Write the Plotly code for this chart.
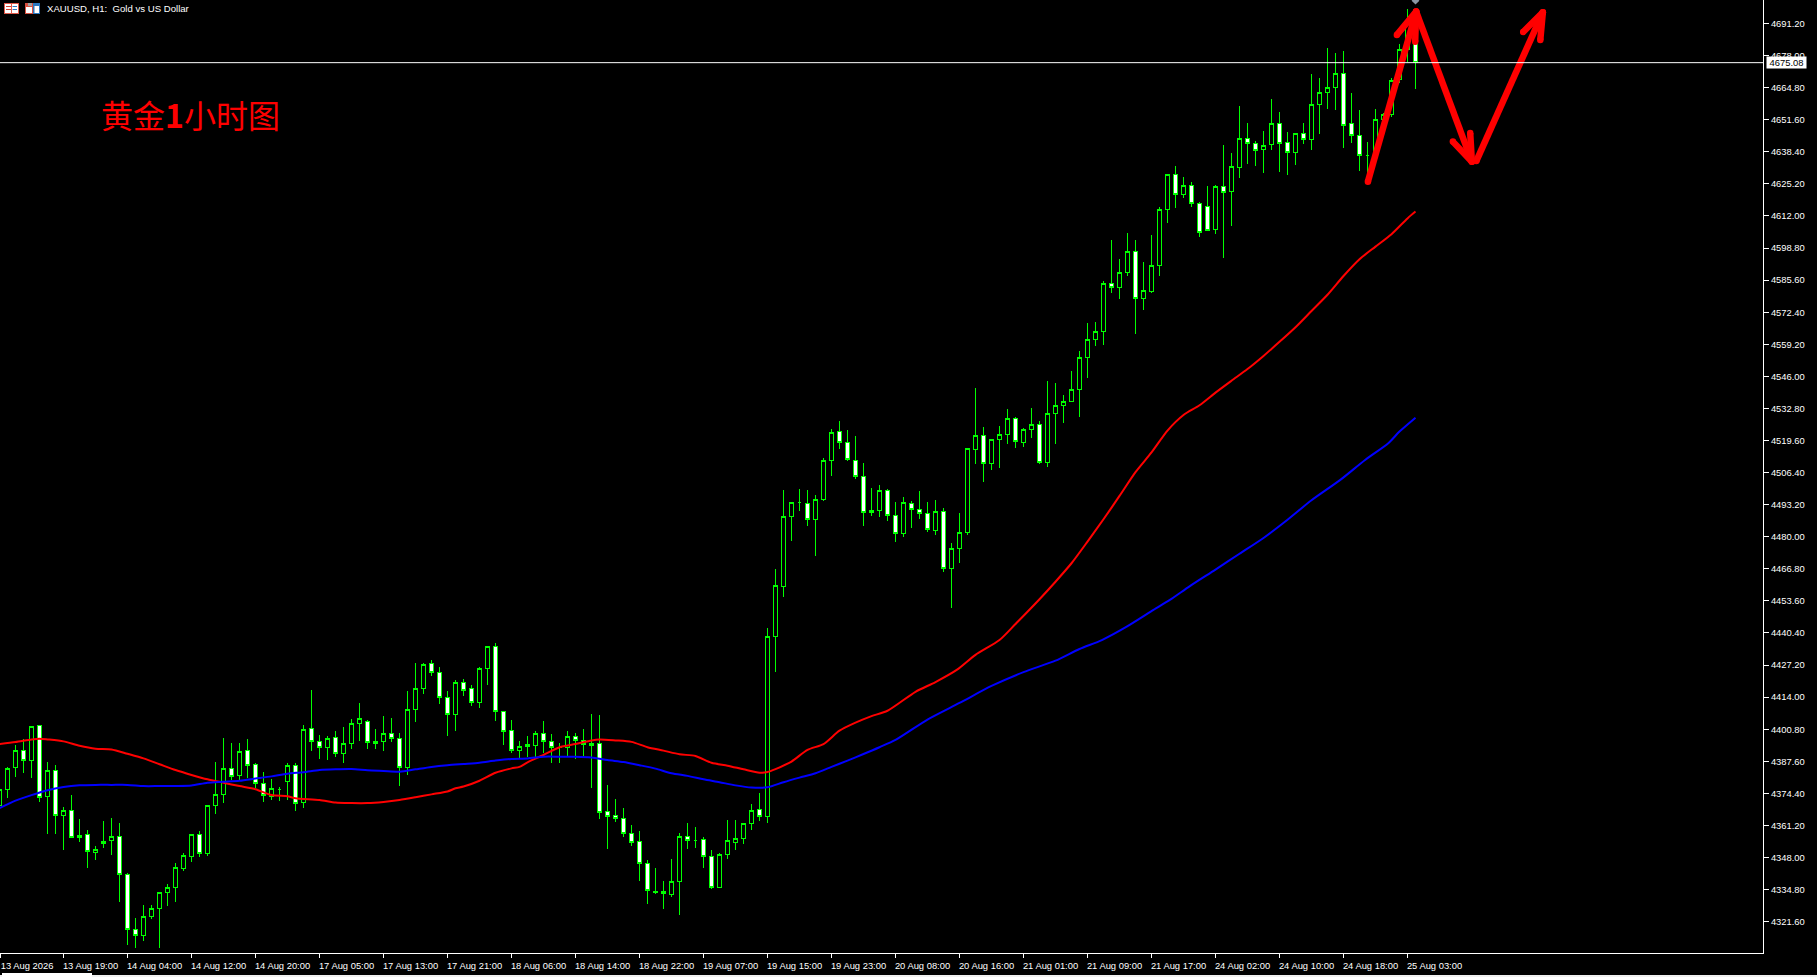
import plotly.graph_objects as go

opens = [4369.6,4376.1,4385.0,4392.1,4388.0,4402.4,4373.2,4383.9,4365.4,4367.4,
 4357.1,4357.6,4350.2,4353.9,4355.1,4356.7,4341.1,4318.5,4316.0,4323.8,
 4327.1,4333.7,4335.8,4343.4,4348.5,4357.6,4349.7,4369.5,4374.0,4384.7,
 4381.8,4392.1,4386.4,4378.5,4373.2,4376.1,4379.4,4386.0,4370.7,4401.2,
 4395.8,4393.4,4397.5,4390.9,4395.0,4403.2,4404.1,4395.8,4395.8,4399.1,
 4397.1,4385.1,4409.0,4417.6,4427.9,4424.2,4413.9,4406.8,4420.1,4417.6,
 4411.7,4425.9,4434.9,4408.2,4400.4,4392.1,4394.6,4394.2,4399.1,4395.8,
 4393.2,4393.4,4397.9,4396.2,4395.0,4395.0,4367.0,4365.4,4364.1,4358.0,
 4354.7,4345.6,4334.0,4334.1,4332.9,4338.2,4356.7,4355.1,4355.5,4348.5,
 4335.8,4349.3,4354.3,4355.9,4362.1,4367.8,4365.0,4439.0,4459.6,4488.4,
 4494.2,4493.8,4487.2,4495.4,4511.4,4523.4,4518.9,4511.4,4504.9,4490.0,
 4490.9,4499.1,4488.8,4481.4,4493.8,4491.3,4489.6,4482.6,4490.5,4467.0,
 4475.2,4481.8,4516.0,4521.7,4510.2,4520.1,4522.1,4528.7,4518.9,4524.2,
 4526.3,4510.6,4530.8,4534.1,4535.7,4540.7,4553.8,4561.2,4564.5,4584.3,
 4582.6,4588.8,4597.5,4578.1,4580.9,4591.7,4614.7,4629.1,4620.9,4624.6,
 4617.2,4616.0,4606.5,4624.2,4622.1,4632.0,4644.0,4641.9,4639.4,4641.5,
 4650.1,4642.3,4638.2,4646.0,4643.5,4657.9,4662.9,4664.9,4670.7,4650.1,
 4645.2,4637.0,4637.0,4651.8,4653.6,4668.2,4680.6,4692.6]
highs = [4376.1,4385.1,4394.3,4396.6,4402.0,4402.4,4387.2,4386.1,4368.8,4373.7,
 4363.7,4359.3,4352.8,4363.0,4364.1,4362.1,4341.8,4323.1,4328.5,4328.5,
 4334.0,4337.0,4345.8,4349.7,4357.6,4358.8,4369.5,4387.3,4397.2,4395.1,
 4395.1,4396.8,4386.8,4383.1,4380.2,4376.9,4386.8,4386.8,4402.5,4417.0,
 4398.3,4398.0,4400.1,4401.7,4405.0,4411.6,4404.6,4400.9,4406.3,4405.4,
 4399.3,4416.5,4428.1,4428.2,4429.3,4426.4,4416.5,4420.9,4421.3,4418.9,
 4426.3,4434.9,4436.2,4408.2,4404.6,4395.8,4397.9,4399.9,4404.2,4398.7,
 4395.0,4399.9,4399.1,4400.9,4407.1,4406.7,4377.9,4372.1,4368.3,4361.3,
 4358.8,4347.0,4343.6,4338.2,4347.4,4358.0,4362.2,4360.6,4356.3,4351.1,
 4349.7,4363.5,4363.5,4362.1,4370.0,4374.4,4442.3,4466.7,4499.2,4494.2,
 4499.7,4499.2,4497.2,4512.3,4524.2,4527.5,4523.8,4521.5,4510.2,4500.1,
 4501.3,4499.7,4494.2,4496.2,4494.6,4498.7,4494.2,4495.0,4491.7,4477.3,
 4489.6,4516.4,4541.2,4525.1,4520.1,4525.4,4532.6,4529.1,4524.6,4532.8,
 4527.5,4544.1,4543.3,4538.3,4548.2,4556.4,4568.0,4568.4,4585.3,4602.1,
 4594.2,4605.0,4602.1,4593.1,4604.0,4615.6,4629.1,4632.6,4628.0,4626.0,
 4617.8,4624.3,4624.6,4641.2,4637.9,4657.3,4650.3,4642.9,4647.0,4660.1,
 4654.8,4646.6,4646.0,4650.3,4670.4,4668.8,4681.1,4679.1,4679.9,4662.6,
 4655.6,4642.4,4655.9,4654.2,4668.6,4682.8,4697.2,4696.0]
lows = [4368.5,4372.4,4381.3,4382.9,4380.9,4371.0,4357.8,4357.7,4351.1,4355.9,
 4354.4,4343.8,4347.0,4352.1,4349.1,4329.7,4312.0,4310.9,4313.8,4322.9,
 4310.9,4328.1,4329.7,4342.3,4346.2,4348.4,4348.8,4365.9,4370.5,4379.9,
 4379.9,4380.6,4376.5,4371.0,4371.7,4371.4,4371.6,4367.3,4368.3,4392.0,
 4388.7,4388.1,4389.2,4387.0,4392.8,4396.0,4392.8,4392.7,4392.0,4395.4,
 4377.6,4382.0,4403.8,4415.3,4422.7,4411.2,4398.0,4400.2,4414.6,4410.5,
 4409.7,4419.1,4404.3,4394.3,4390.9,4388.8,4389.2,4388.8,4390.9,4387.0,
 4387.0,4389.8,4388.6,4389.9,4376.8,4363.9,4351.5,4362.8,4356.6,4352.9,
 4338.4,4328.9,4332.9,4326.8,4331.6,4324.4,4351.5,4351.9,4343.7,4335.1,
 4335.3,4347.4,4351.1,4353.6,4359.3,4363.0,4362.2,4424.5,4455.4,4478.4,
 4490.7,4484.6,4472.2,4494.6,4505.1,4516.1,4511.3,4503.9,4484.6,4488.7,
 4488.3,4486.6,4478.0,4480.0,4483.7,4487.4,4482.1,4480.9,4465.6,4450.8,
 4469.3,4480.9,4510.1,4502.7,4507.6,4508.4,4518.3,4516.7,4517.1,4520.8,
 4510.1,4508.7,4518.2,4526.8,4535.7,4529.4,4545.3,4558.6,4558.9,4580.3,
 4577.8,4587.3,4563.4,4573.3,4580.2,4587.3,4609.1,4615.3,4619.4,4615.7,
 4603.5,4605.8,4604.6,4594.9,4607.9,4627.8,4633.5,4632.6,4629.7,4639.2,
 4630.2,4629.0,4633.1,4641.8,4639.3,4645.9,4656.2,4655.6,4640.1,4642.2,
 4630.6,4625.6,4635.0,4646.0,4652.9,4666.9,4675.2,4664.3]
closes = [4376.1,4384.7,4392.1,4388.0,4402.0,4372.8,4383.9,4365.4,4367.4,4356.3,
 4356.3,4350.6,4351.4,4354.7,4356.7,4341.1,4318.5,4316.0,4323.8,4327.1,
 4333.7,4335.8,4344.0,4348.9,4357.6,4349.7,4369.5,4374.0,4384.7,4381.4,
 4391.7,4386.0,4378.5,4373.6,4376.5,4376.1,4386.0,4370.3,4400.8,4395.8,
 4393.4,4397.1,4390.9,4395.0,4403.2,4405.3,4395.4,4395.0,4399.1,4396.9,
 4385.1,4409.0,4417.6,4427.6,4424.1,4413.8,4406.8,4420.1,4416.8,4411.9,
 4425.9,4434.9,4408.2,4399.9,4392.1,4393.8,4393.8,4399.1,4395.8,4393.4,
 4393.4,4397.9,4396.2,4394.6,4394.2,4366.6,4365.0,4364.1,4358.0,4354.3,
 4345.6,4334.5,4333.6,4333.3,4338.2,4356.7,4355.1,4355.1,4348.5,4335.8,
 4349.3,4355.1,4355.9,4362.1,4367.4,4365.0,4439.0,4460.0,4488.4,4494.2,
 4494.2,4487.2,4495.4,4511.4,4523.0,4518.9,4511.9,4504.9,4490.0,4490.9,
 4499.1,4488.8,4481.4,4494.2,4491.3,4489.6,4483.1,4490.5,4467.0,4475.2,
 4481.8,4516.4,4521.7,4510.2,4520.1,4522.1,4528.7,4519.3,4524.2,4526.3,
 4510.6,4530.8,4534.1,4535.7,4540.7,4553.8,4561.2,4564.5,4584.3,4582.6,
 4588.8,4597.5,4578.1,4581.4,4591.7,4614.7,4629.1,4620.9,4624.6,4617.2,
 4605.3,4606.1,4624.2,4621.7,4632.4,4644.0,4641.8,4638.9,4641.1,4650.1,
 4641.9,4638.2,4646.0,4643.5,4657.9,4662.9,4664.9,4670.7,4649.3,4645.2,
 4637.0,4637.0,4651.8,4653.6,4667.8,4680.3,4692.6,4675.08]

red_idx = [0,2,4,5,6,8,10,12,14,16,18,20,22,24,26,28,30,32,34,36,37,40,42,44,46,48,50,52,54,56,
 57,58,60,62,64,65,66,68,70,72,74,75,77,79,81,83,85,87,89,91,93,95,96,97,99,101,103,105,107,109,111,
 114.5,117,119.7,122,125,127,130,132,134,136,138,140,142,144,146,148,150,152,154,156,158,160,162,164,166,168,170,172,174,176,177]
red_ma = [4394.7,4395.5,4396.6,4396.9,4396.6,4395.8,4394.0,4392.8,4392.5,4390.7,4388.8,4386.4,4384.0,4382.0,4380.2,4378.8,4377.4,4376.1,4373.7,4373.2,4372.4,4371.7,4370.6,4370.4,4370.4,4370.9,4371.7,4372.8,4374.0,4375.2,
 4376.5,4377.2,4379.6,4382.9,4384.7,4385.3,4387.2,4390.2,4393.4,4394.7,4396.2,4396.6,4396.2,4395.6,4393.4,4392.0,4390.5,4389.8,4387.0,4385.8,4384.3,4382.9,4383.2,4384.4,4387.5,4392.3,4394.7,4400.2,4403.5,4406.2,4408.4,
 4416.2,4420.2,4425.3,4431.4,4437.5,4444.1,4454.3,4461.5,4469.1,4478.0,4487.2,4496.8,4506.6,4514.7,4523.7,4530.1,4534.1,4539.3,4544.2,4549.0,4554.4,4560.2,4566.2,4572.9,4579.6,4587.3,4594.2,4599.4,4604.5,4611.0,4613.8]
blue_idx = [0,2,4,6,8,10,12,14,16,18,20,22,24,26,28,30,32,34,36,38,40,42,44,46,48,50,52,54,56,
 58,60,62,64,66,68,70,72,74,76,78,80,82,84,86,88,90,92,94,96,98,100,102,104,106,108,110,112,
 116,120,124,128,132,135,137.8,140.9,144.25,146.3,148.8,152,155,158,161,164,167.6,170.7,173.6,175,177]
blue_ma = [4368.3,4371.4,4373.7,4375.7,4377.0,4377.7,4377.9,4377.9,4377.9,4377.4,4377.4,4377.4,4377.6,4378.8,4379.2,4379.6,4380.5,4381.4,4382.5,4383.1,4384.0,4384.3,4384.4,4383.9,4383.6,4383.3,4384.3,4385.3,4386.0,
 4386.5,4387.0,4387.9,4388.6,4388.8,4389.5,4389.5,4389.5,4389.2,4388.1,4387.3,4386.0,4384.6,4382.7,4381.6,4380.2,4379.0,4377.7,4376.8,4376.9,4379.0,4380.9,4382.7,4385.3,4387.9,4390.6,4393.4,4396.4,
 4404.8,4411.6,4418.6,4424.3,4429.0,4433.8,4437.5,4443.0,4449.9,4454.0,4459.7,4466.5,4473.0,4479.5,4487.0,4495.0,4503.4,4511.6,4518.5,4523.3,4529.0]

x_tick_idx = [0.08,8,16,24,32,40,48,56,64,72,80,88,96,104,112,120,128,136,144,152,160,168,176]
x_tick_labels = ["13 Aug 2026","13 Aug 19:00","14 Aug 04:00","14 Aug 12:00","14 Aug 20:00",
 "17 Aug 05:00","17 Aug 13:00","17 Aug 21:00","18 Aug 06:00","18 Aug 14:00","18 Aug 22:00",
 "19 Aug 07:00","19 Aug 15:00","19 Aug 23:00","20 Aug 08:00","20 Aug 16:00","21 Aug 01:00",
 "21 Aug 09:00","21 Aug 17:00","24 Aug 02:00","24 Aug 10:00","24 Aug 18:00","25 Aug 03:00"]
y_ticks = [4321.6,4334.8,4348.0,4361.2,4374.4,4387.6,4400.8,4414.0,4427.2,4440.4,4453.6,4466.8,
 4480.0,4493.2,4506.4,4519.6,4532.8,4546.0,4559.2,4572.4,4585.6,4598.8,4612.0,4625.2,4638.4,
 4651.6,4664.8,4678.0,4691.2]
y_tick_labels = [f"{v:.2f}" for v in y_ticks]
last_price = 4675.08

arrow_x = [171.05,177.08,None,174.67,177.08,176.96,None,
           177.08,184.05,None,181.67,184.05,183.84,None,
           184.6,192.92,None,190.46,192.92,192.6]
arrow_y = [4626.1,4696.1,None,4686.5,4696.1,4683.7,None,
           4696.1,4634.3,None,4642.6,4634.3,4646.1,None,
           4634.6,4695.8,None,4687.7,4695.8,4684.4]

W, H = 1817, 977
PW, PH = 1763, 953
LABEL = "Liberation Sans"
def px(v): return v / PW
def py(v): return 1 - v / PH

fig = go.Figure()
fig.add_trace(go.Candlestick(
    x=list(range(len(opens))), open=opens, high=highs, low=lows, close=closes,
    increasing=dict(line=dict(color="#00ff00", width=1), fillcolor="#000000"),
    decreasing=dict(line=dict(color="#00ff00", width=1), fillcolor="#ffffff"),
    whiskerwidth=0, hoverinfo="skip", showlegend=False))
fig.add_trace(go.Scatter(x=red_idx, y=red_ma, mode="lines",
    line=dict(color="#ff0000", width=2, shape="spline", smoothing=0.7), hoverinfo="skip", showlegend=False))
fig.add_trace(go.Scatter(x=blue_idx, y=blue_ma, mode="lines",
    line=dict(color="#0000ff", width=2, shape="spline", smoothing=0.7), hoverinfo="skip", showlegend=False))
fig.add_trace(go.Scatter(x=arrow_x, y=arrow_y, mode="lines+markers",
    line=dict(color="#ff0000", width=6.5), marker=dict(color="#ff0000", size=6.5),
    hoverinfo="skip", showlegend=False))
fig.add_trace(go.Scatter(x=[177], y=[4700.6], mode="markers",
    marker=dict(symbol="diamond", color="#8a96a3", size=6), hoverinfo="skip", showlegend=False))

shapes = [
    dict(type="line", xref="paper", x0=0, x1=1, yref="y", y0=last_price, y1=last_price,
         line=dict(color="#ffffff", width=1)),
    dict(type="rect", xref="paper", yref="paper", x0=0, x1=px(W), y0=py(975), y1=py(977),
         fillcolor="#f0f0f0", line_width=0),
    dict(type="rect", xref="paper", yref="paper", x0=px(2), x1=px(92), y0=py(973), y1=py(977),
         fillcolor="#ffffff", line_width=0),
]
for x0, x1, y0, y1, fill in [
    (4, 19, 3, 14, "#e05a4a"), (5, 11, 4, 13, "#ffffff"), (12, 18, 4, 13, "#ffffff"),
    (6, 11, 6, 7, "#d8402f"), (6, 11, 9, 10, "#d8402f"), (12.5, 17, 6, 7, "#2a78c0"), (12.5, 17, 9, 10, "#2a78c0"),
    (25, 33, 3, 14, "#d8503f"), (26, 32, 7, 13, "#ffffff"), (33, 40, 3, 14, "#2a78c0"),
    (34.5, 39, 6, 13, "#ffffff"), (28, 32, 3, 6, "#a0a0a0"),
]:
    shapes.append(dict(type="rect", xref="paper", yref="paper", x0=px(x0), x1=px(x1), y0=py(y0), y1=py(y1),
                       fillcolor=fill, line_width=0))

annotations = [
    dict(xref="paper", yref="paper", x=px(44.5), y=py(8), xanchor="left", yanchor="middle",
         text="XAUUSD, H1:\u00a0\u00a0Gold vs US Dollar", showarrow=False,
         font=dict(family=LABEL, size=9.6, color="#ffffff")),
    dict(xref="paper", yref="paper", x=px(99), y=py(114.5), xanchor="left", yanchor="middle",
         text="黄金<b>1</b>小时图", showarrow=False,
         font=dict(family="Noto Sans CJK SC", size=32, color="#ff0000")),
    dict(xref="paper", yref="y", x=px(1766), y=last_price, xanchor="left", yanchor="middle",
         text=f"{last_price:.2f}", showarrow=False, width=39, height=10.5, borderpad=0, bgcolor="#ffffff",
         font=dict(family=LABEL, size=9.4, color="#000000")),
]

fig.update_layout(
    width=W, height=H, margin=dict(l=0, r=W - PW, t=0, b=H - PH),
    paper_bgcolor="#000000", plot_bgcolor="#000000", showlegend=False, hovermode=False,
    boxgap=0.4, shapes=shapes, annotations=annotations,
    xaxis=dict(range=[0.0625, 220.4375], rangeslider=dict(visible=False), showgrid=False, zeroline=False,
               tickmode="array", tickvals=x_tick_idx, ticktext=x_tick_labels,
               ticks="outside", ticklen=4, tickwidth=1, tickcolor="#ffffff",
               tickfont=dict(family=LABEL, size=9.4, color="#ffffff"), ticklabelshift=27, ticklabelstandoff=0,
               showline=True, linecolor="#ffffff", linewidth=1),
    yaxis=dict(range=[4308.72, 4700.87], side="right", showgrid=False, zeroline=False,
               tickmode="array", tickvals=y_ticks, ticktext=y_tick_labels,
               ticks="outside", ticklen=5, tickwidth=1, tickcolor="#ffffff",
               tickfont=dict(family=LABEL, size=9.4, color="#ffffff"),
               showline=True, linecolor="#ffffff", linewidth=1),
)
fig.write_html("out.html", config=dict(displayModeBar=False),
               post_script=("document.body.style.margin='0';document.body.style.background='#000';"
                            "document.body.style.overflow='hidden';"
                            "document.querySelectorAll('.boxlayer path').forEach(function(p){p.style.shapeRendering='crispEdges';});"))
